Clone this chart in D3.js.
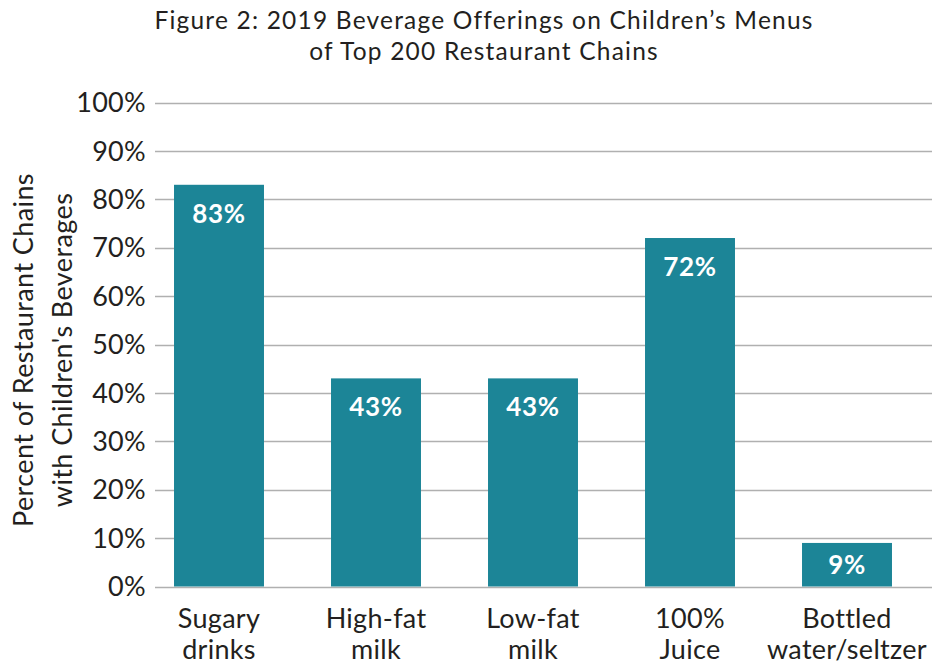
<!DOCTYPE html>
<html>
<head>
<meta charset="utf-8">
<script src="https://cdn.jsdelivr.net/npm/d3@7"></script>
<style>
  body { margin: 0; background: #fff; }
  text { font-family: Lato, "Open Sans", sans-serif; fill: #231f20; }
</style>
</head>
<body>
<div id="chart"></div>
<script>
// data
var categories = [["Sugary", "drinks"], ["High-fat", "milk"], ["Low-fat", "milk"], ["100%", "Juice"], ["Bottled", "water/seltzer"]];
var values = [83, 43, 43, 72, 9];
var yTicks = [0, 10, 20, 30, 40, 50, 60, 70, 80, 90, 100];
var titleLines = ["Figure 2: 2019 Beverage Offerings on Children\u2019s Menus", "of Top 200 Restaurant Chains"];
var yTitleLines = ["Percent of Restaurant Chains", "with Children's Beverages"];

var svgWidth = 932;
var svgHeight = 666;

var svg = d3.select("#chart")
  .append("svg")
  .attr("width", svgWidth)
  .attr("height", svgHeight);

var xScale = d3.scaleBand()
  .domain(d3.range(categories.length))
  .range([140.5, 925.5])
  .paddingInner(0.427)
  .paddingOuter(0.2135);

var yScale = d3.scaleLinear()
  .domain([0, 100])
  .range([586.5, 102.5]);

// gridlines
svg.append("g")
  .selectAll("line")
  .data(yTicks)
  .enter()
  .append("line")
  .attr("x1", 155)
  .attr("x2", svgWidth)
  .attr("y1", d => Math.round(yScale(d)) + 0.5)
  .attr("y2", d => Math.round(yScale(d)) + 0.5)
  .attr("stroke", "#b0b0b0")
  .attr("stroke-width", 1.5);

// y tick labels
svg.append("g")
  .selectAll("text")
  .data(yTicks)
  .enter()
  .append("text")
  .attr("x", 146)
  .attr("y", d => yScale(d))
  .attr("dy", "0.36em")
  .attr("text-anchor", "end")
  .style("font-size", "27px")
  .style("letter-spacing", "0.3px")
  .text(d => d + "%");

// bars
svg.append("g")
  .selectAll("rect")
  .data(values)
  .enter()
  .append("rect")
  .attr("x", (d, i) => xScale(i))
  .attr("y", d => yScale(d))
  .attr("width", xScale.bandwidth())
  .attr("height", d => yScale(0) - yScale(d))
  .attr("fill", "#1c8597");

// value labels (centred in short bars)
svg.append("g")
  .selectAll("text")
  .data(values)
  .enter()
  .append("text")
  .attr("x", (d, i) => xScale(i) + xScale.bandwidth() / 2)
  .attr("y", d => Math.min(yScale(d) + 38, (yScale(d) + yScale(0)) / 2 + 9))
  .attr("text-anchor", "middle")
  .style("font-size", "26px")
  .style("font-weight", "bold")
  .style("letter-spacing", "0.6px")
  .style("fill", "#fff")
  .text(d => d + "%");

// category labels
var catText = svg.append("g")
  .selectAll("text")
  .data(categories)
  .enter()
  .append("text")
  .attr("x", (d, i) => xScale(i) + xScale.bandwidth() / 2)
  .attr("y", 628)
  .attr("text-anchor", "middle")
  .style("font-size", "27px")
  .style("letter-spacing", "0.3px");

catText.selectAll("tspan")
  .data(d => d)
  .enter()
  .append("tspan")
  .attr("x", function() { return d3.select(this.parentNode).attr("x"); })
  .attr("dy", (d, i) => i === 0 ? 0 : 31)
  .text(d => d);

// title
svg.append("g")
  .selectAll("text")
  .data(titleLines)
  .enter()
  .append("text")
  .attr("x", 484)
  .attr("y", (d, i) => 29 + i * 31)
  .attr("text-anchor", "middle")
  .style("font-size", "24.5px")
  .style("letter-spacing", "1.2px")
  .text(d => d);

// y axis title
svg.append("g")
  .attr("transform", "translate(0, 350) rotate(-90)")
  .selectAll("text")
  .data(yTitleLines)
  .enter()
  .append("text")
  .attr("x", 0)
  .attr("y", (d, i) => 33 + i * 39)
  .attr("text-anchor", "middle")
  .style("font-size", "27px")
  .style("letter-spacing", "0.4px")
  .text(d => d);
</script>
</body>
</html>
